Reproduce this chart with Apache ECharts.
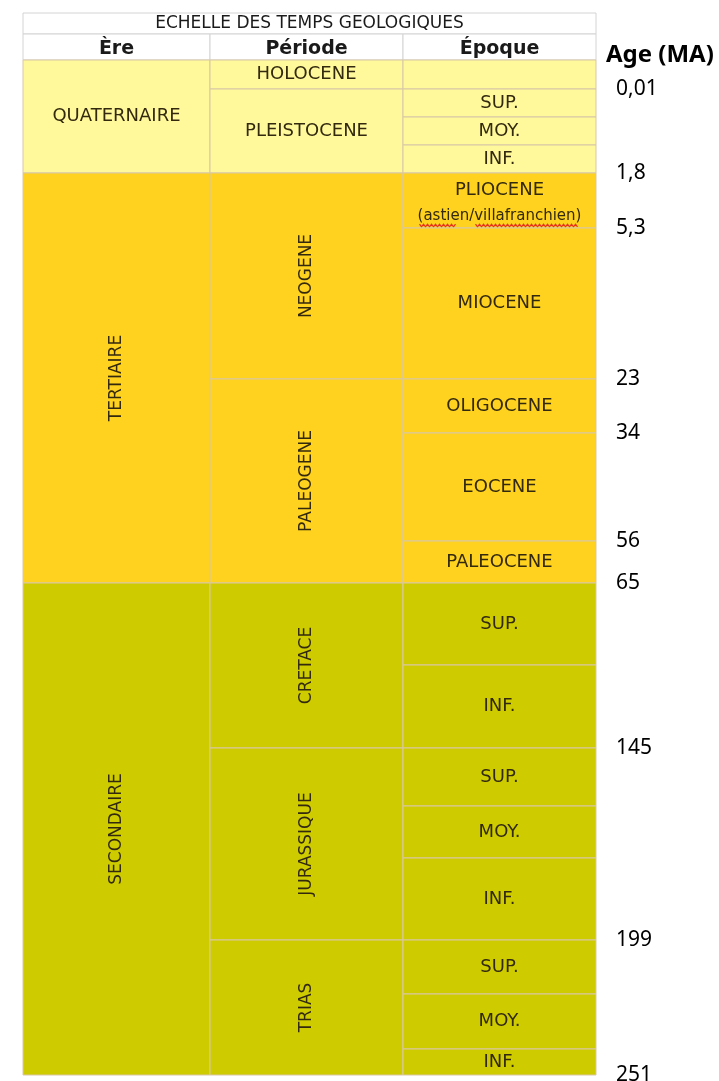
<!DOCTYPE html>
<html><head><meta charset="utf-8">
<script src="https://cdn.jsdelivr.net/npm/echarts@6/dist/echarts.min.js"></script>
<style>html,body{margin:0;padding:0;background:#fff}#c{width:719px;height:1081px}</style>
</head><body><div id="c"></div>
<script>
// ---- data ----
const tableTitle = 'ECHELLE DES TEMPS GEOLOGIQUES';
const columnNames = ['Ère', 'Période', 'Époque'];
const columnWidths = [187, 193, 193];          // relative column widths (table units)
const headerRowSpans = [21, 26];               // title row, column-header row
const eras = ['QUATERNAIRE', 'TERTIAIRE', 'SECONDAIRE'];
const eraRowCounts = [4, 5, 8];                // number of epoch rows per era
const eraColors = ['#FFF99C', '#FED21E', '#CECC00'];
const periods = ['HOLOCENE', 'PLEISTOCENE', 'NEOGENE', 'PALEOGENE', 'CRETACE', 'JURASSIQUE', 'TRIAS'];
const periodRowCounts = [1, 3, 2, 3, 2, 3, 3];
const epochs = ['', 'SUP.', 'MOY.', 'INF.', 'PLIOCENE', 'MIOCENE', 'OLIGOCENE', 'EOCENE', 'PALEOCENE',
                'SUP.', 'INF.', 'SUP.', 'MOY.', 'INF.', 'SUP.', 'MOY.', 'INF.'];
const epochNotes = ['', '', '', '', '(astien/villafranchien)', '', '', '', '', '', '', '', '', '', '', '', ''];
const epochRowSpans = [29, 28, 28, 28, 55, 151, 54, 108, 42, 82, 83, 58, 52, 82, 54, 55, 26];
const ageHeader = 'Age (MA)';
const ageLabels = ['0,01', '1,8', '5,3', '23', '34', '56', '65', '145', '199', '251'];
const ageRowBoundaries = [1, 4, 5, 6, 7, 8, 9, 11, 14, 17]; // boundary below this many epoch rows

// ---- build table cells (in table units) ----
const tableWidth = columnWidths.reduce((a, b) => a + b, 0);
const colEdges = [0];
columnWidths.forEach(w => colEdges.push(colEdges[colEdges.length - 1] + w));
const headerTotal = headerRowSpans.reduce((a, b) => a + b, 0);
const rowEdges = [headerTotal];
epochRowSpans.forEach(h => rowEdges.push(rowEdges[rowEdges.length - 1] + h));
const tableHeight = rowEdges[rowEdges.length - 1];

const eraOfRow = [];
eraRowCounts.forEach((n, e) => { for (let i = 0; i < n; i++) eraOfRow.push(e); });

const cells = [];
cells.push({x0: 0, x1: tableWidth, y0: 0, y1: headerRowSpans[0], text: tableTitle, kind: 'title'});
columnNames.forEach((n, c) => cells.push({x0: colEdges[c], x1: colEdges[c + 1], y0: headerRowSpans[0], y1: headerTotal, text: n, kind: 'head'}));
function addGroup(names, counts, col) {
  let r = 0;
  names.forEach((name, i) => {
    const y0 = rowEdges[r], y1 = rowEdges[r + counts[i]];
    cells.push({x0: colEdges[col], x1: colEdges[col + 1], y0, y1, text: name, kind: 'body', col, fill: eraColors[eraOfRow[r]]});
    r += counts[i];
  });
}
addGroup(eras, eraRowCounts, 0);
addGroup(periods, periodRowCounts, 1);
epochs.forEach((name, i) => {
  cells.push({x0: colEdges[2], x1: colEdges[3], y0: rowEdges[i], y1: rowEdges[i + 1], text: name, note: epochNotes[i], kind: 'body', col: 2, fill: eraColors[eraOfRow[i]]});
});

const FONT = 'DejaVu Sans';
const TXT = '#33290f';
function renderCell(params, api) {
  const c = cells[params.dataIndex];
  const p0 = api.coord([c.x0, c.y0]);
  const p1 = api.coord([c.x1, c.y1]);
  const w = p1[0] - p0[0], h = p1[1] - p0[1];
  const cx = p0[0] + w / 2, cy = p0[1] + h / 2;
  const children = [{
    type: 'rect',
    shape: {x: p0[0], y: p0[1], width: w, height: h},
    style: {fill: c.kind === 'body' ? c.fill : '#ffffff', stroke: c.kind === 'body' ? '#d9c7a6' : '#d4d4d4', lineWidth: 1}
  }];
  if (c.text) {
    const rotate = c.kind === 'body' && c.col < 2 && h > 120;
    if (c.note) {
      children.push({type: 'text', x: cx, y: cy + 2, style: {
        text: '{m|' + c.text + '}\n{n|' + c.note + '}',
        rich: {
          m: {fontFamily: FONT, fontSize: 18, lineHeight: 28, fill: TXT, align: 'center'},
          n: {fontFamily: FONT, fontSize: 15, lineHeight: 24, fill: TXT, align: 'center'}
        },
        align: 'center', verticalAlign: 'middle'
      }});
      // red spell-check squiggle under the note, as in the source screenshot
      [[-80, -44], [-24, 78]].forEach(seg => {
        const pts = [];
        for (let x = seg[0], k = 0; x <= seg[1]; x += 2, k++) pts.push([cx + x, cy + 25 + (k % 2 ? 1.3 : -1.3)]);
        children.push({type: 'polyline', shape: {points: pts}, style: {stroke: '#e8301c', lineWidth: 1.3, fill: null}});
      });
    } else {
      const size = c.kind === 'title' ? 17 : c.kind === 'head' ? 19 : rotate ? 17 : 18;
      children.push({type: 'text', x: cx, y: cy + (c.kind === 'head' ? 2 : 0), rotation: rotate ? Math.PI / 2 : 0, style: {
        text: c.text, fontFamily: FONT, fontSize: size,
        fontWeight: c.kind === 'head' ? 'bold' : 'normal',
        fill: c.kind === 'body' ? TXT : '#1a1a1a',
        align: 'center', verticalAlign: 'middle'
      }});
    }
  }
  return {type: 'group', children};
}

const ageData = ageRowBoundaries.map((b, i) => [tableWidth, rowEdges[b], i]);
function renderAge(params, api) {
  const p = api.coord([api.value(0), api.value(1)]);
  return {
    type: 'text', x: p[0] + 20, y: p[1],
    style: {text: ageLabels[params.dataIndex], fontFamily: 'Noto Sans', fontSize: 21, fill: '#000', align: 'left', verticalAlign: 'middle'}
  };
}

const chart = echarts.init(document.getElementById('c'), null, {renderer: 'canvas'});
chart.setOption({
  animation: false,
  backgroundColor: '#ffffff',
  title: {
    text: ageHeader, left: 606, top: 41, padding: 0,
    textStyle: {fontFamily: 'Noto Sans', fontSize: 24, fontWeight: 'bold', color: '#000', lineHeight: 28}
  },
  grid: {left: 23, top: 13, width: 573, height: 1062},
  xAxis: {type: 'value', min: 0, max: tableWidth, show: false},
  yAxis: {type: 'value', min: 0, max: tableHeight, inverse: true, show: false},
  series: [
    {type: 'custom', renderItem: renderCell, clip: false,
     data: cells.map(c => [c.x0, c.y0, c.x1, c.y1]), encode: {x: [0, 2], y: [1, 3]}},
    {type: 'custom', renderItem: renderAge, clip: false,
     data: ageData, encode: {x: 0, y: 1}}
  ]
});
</script></body></html>
